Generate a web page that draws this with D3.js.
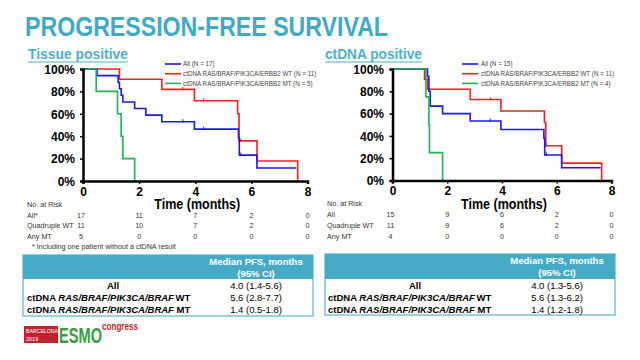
<!DOCTYPE html>
<html><head><meta charset="utf-8">
<script src="https://cdn.jsdelivr.net/npm/d3@7"></script>
<style>body{margin:0;background:#fff}svg{display:block}text{font-family:Arial,"Liberation Sans",sans-serif}</style>
</head><body>
<svg id="c" width="640" height="360"></svg>
<script>
// ---- data ----
const title = "PROGRESSION-FREE SURVIVAL";
const panelTitles = ["Tissue positive", "ctDNA positive"];
const xTicks = [0, 2, 4, 6, 8];
const yTicks = [0, 20, 40, 60, 80, 100];
const seriesNames = [
  ["All (N = 17)", "ctDNA RAS/BRAF/PIK3CA/ERBB2 WT (N = 11)", "ctDNA RAS/BRAF/PIK3CA/ERBB2 MT (N = 5)"],
  ["All (N = 15)", "ctDNA RAS/BRAF/PIK3CA/ERBB2 WT (N = 11)", "ctDNA RAS/BRAF/PIK3CA/ERBB2 MT (N = 4)"]
];
const seriesColors = ["#1a1ae6", "#f02020", "#22b052"];
// step curves [time (months), survival %]
const tissueAll = [[0,100],[0.5,94.1],[1.25,88.2],[1.30,82.4],[1.36,76.5],[1.42,70.6],[1.84,64.7],[2.24,58.8],[2.81,52.9],[3.97,46.3],[5.54,38.6],[5.57,23.1],[6.2,11.6],[7.6,11.6]];
const tissueWT  = [[0,100],[1.30,90.9],[2.81,81.8],[3.97,71.6],[5.51,60],[5.56,35.8],[6.2,17.9],[7.65,0]];
const tissueMT  = [[0,100],[0.47,80],[1.23,60],[1.36,40],[1.42,20],[1.84,0]];
const ctdnaAll  = [[0,100],[1.28,93.3],[1.33,80],[1.38,66.7],[1.83,60],[2.84,53.3],[3.96,45.7],[5.53,38],[5.56,22.9],[6.18,11.4],[7.6,11.4]];
const ctdnaWT   = [[0,100],[1.17,90.9],[1.28,81.8],[2.84,72.7],[3.96,62.3],[5.55,52],[5.6,31.2],[6.18,15.6],[7.64,0]];
const ctdnaMT   = [[0,100],[1.22,75],[1.33,50],[1.35,25],[1.83,0]];
// censor marks [time, survival %]
const tissueCensAll = [[3.56,52.9],[4.3,46.3],[5.62,23.1]];
const tissueCensWT  = [[3.56,81.8],[4.3,71.6],[5.62,35.8]];
const ctdnaCensAll  = [[3.57,53.3],[5.62,22.9]];
const ctdnaCensWT   = [[3.59,72.7],[5.62,31.2]];
// numbers at risk
const riskRows = [["All*", "Quadruple WT", "Any MT"], ["All", "Quadruple WT", "Any MT"]];
const riskTissue = [[17,11,7,2,0],[11,10,7,2,0],[5,0,0,0,0]];
const riskCtdna  = [[15,9,6,2,0],[11,9,6,2,0],[4,0,0,0,0]];
const footnote = "* Including one patient without a ctDNA result";
// median PFS tables
const medHeader = ["Median PFS, months", "(95% CI)"];
const medRowLabels = ["All", "WT", "MT"];
const medTissue = ["4.0 (1.4-5.6)", "5.6 (2.8-7.7)", "1.4 (0.5-1.8)"];
const medCtdna  = ["4.0 (1.3-5.6)", "5.6 (1.3-6.2)", "1.4 (1.2-1.8)"];

const svg = d3.select("#c");
const teal = "#45aac5";

svg.append("text").attr("x", 25).attr("y", 36).attr("font-size", 27).attr("font-weight", "bold")
  .attr("fill", "#41a9c6").attr("textLength", 363).attr("lengthAdjust", "spacingAndGlyphs").text(title);

const panels = [
  {x0: 83, x1: 307.5, y0: 181, y1: 69, ttlX: 28, ttlW: 100, labX: 75, legX: 165, legTX: 183,
   curves: [tissueAll, tissueWT, tissueMT], cens: [tissueCensAll, tissueCensWT, null], risk: riskTissue,
   riskY: [207, 218, 228, 239], riskLX: 27, med: medTissue, tbl: {x: 23, w: 290, y: 255, h1: 24, h2: 37, vx: 256, allx: 113, lx: 27}},
  {x0: 392.5, x1: 611.5, y0: 180.5, y1: 69, ttlX: 325, ttlW: 97, labX: 384, legX: 462, legTX: 481,
   curves: [ctdnaAll, ctdnaWT, ctdnaMT], cens: [ctdnaCensAll, ctdnaCensWT, null], risk: riskCtdna,
   riskY: [206, 217, 228, 239], riskLX: 327, med: medCtdna, tbl: {x: 325, w: 290, y: 254, h1: 25, h2: 36, vx: 557, allx: 415, lx: 328}}
];

panels.forEach((p, pi) => {
  const x = d3.scaleLinear().domain([0, 8]).range([p.x0, p.x1]);
  const y = d3.scaleLinear().domain([0, 100]).range([p.y0, p.y1]);
  const g = svg.append("g");

  // panel title
  g.append("text").attr("x", p.ttlX).attr("y", 59).attr("font-size", 14.5).attr("font-weight", "bold")
    .attr("fill", "#4bb0c8").attr("textLength", p.ttlW).attr("lengthAdjust", "spacingAndGlyphs").text(panelTitles[pi]);
  g.append("line").attr("x1", p.ttlX).attr("x2", p.ttlX + p.ttlW).attr("y1", 62).attr("y2", 62)
    .attr("stroke", "#4bb0c8").attr("stroke-width", 1.2);

  // curves
  const line = d3.line().x(d => x(d[0])).y(d => y(d[1])).curve(d3.curveStepAfter);
  [1, 0, 2].forEach(i => {
    g.append("path").datum(p.curves[i]).attr("d", line).attr("fill", "none")
      .attr("stroke", seriesColors[i]).attr("stroke-width", 1.6);
    if (p.cens[i]) {
      g.selectAll(null).data(p.cens[i]).enter().append("line")
        .attr("x1", d => x(d[0])).attr("x2", d => x(d[0]))
        .attr("y1", d => y(d[1]) - 2.5).attr("y2", d => y(d[1]) + 1)
        .attr("stroke", seriesColors[i]).attr("stroke-width", 1);
    }
  });

  // axes
  const ya = g.append("g").attr("transform", `translate(${p.x0},0)`)
    .call(d3.axisLeft(y).tickValues(yTicks).tickSize(3).tickFormat(d => d + "%"));
  const xa = g.append("g").attr("transform", `translate(0,${p.y0})`)
    .call(d3.axisBottom(x).tickValues(xTicks).tickSize(3).tickFormat(d3.format("d")));
  [ya, xa].forEach(a => {
    a.select(".domain").attr("stroke", "#000").attr("stroke-width", 2.5);
    a.selectAll(".tick line").attr("stroke", "#000").attr("stroke-width", 1.5);
    a.selectAll("text").attr("font-size", 12).attr("font-weight", "bold").attr("fill", "#000")
      .attr("font-family", "Arial, Liberation Sans, sans-serif");
  });
  ya.selectAll("text").attr("x", -(p.x0 - p.labX)).attr("dy", "0.36em");
  xa.selectAll("text").attr("y", 6);

  g.append("text").attr("x", (x(0) + x(8)) / 2 + 2).attr("y", 208.5).attr("text-anchor", "middle")
    .attr("font-size", 15).attr("font-weight", "bold").attr("textLength", 86)
    .attr("lengthAdjust", "spacingAndGlyphs").text("Time (months)");

  // legend
  seriesNames[pi].forEach((n, i) => {
    const ly = 64 + i * 9.7;
    g.append("line").attr("x1", p.legX).attr("x2", p.legX + 16).attr("y1", ly).attr("y2", ly)
      .attr("stroke", seriesColors[i]).attr("stroke-width", 1.6);
    g.append("text").attr("x", p.legTX).attr("y", ly + 2.3).attr("font-size", 6.3).attr("fill", "#444").text(n);
  });

  // numbers at risk
  const rt = g.append("g").attr("font-size", 7.2).attr("fill", "#333");
  rt.append("text").attr("x", p.riskLX).attr("y", p.riskY[0]).text("No. at Risk");
  riskRows[pi].forEach((r, i) => {
    rt.append("text").attr("x", p.riskLX).attr("y", p.riskY[i + 1]).text(r);
    p.risk[i].forEach((v, j) => {
      rt.append("text").attr("x", x(xTicks[j]) - (j === 0 ? 2 : 0)).attr("y", p.riskY[i + 1])
        .attr("text-anchor", "middle").text(v);
    });
  });
  if (pi === 0) rt.append("text").attr("x", 32).attr("y", 249).text(footnote);

  // median table
  const t = p.tbl;
  g.append("rect").attr("x", t.x).attr("y", t.y).attr("width", t.w).attr("height", t.h1 + t.h2)
    .attr("fill", "#fff").attr("stroke", "#7cc3d6").attr("stroke-width", 1.5);
  g.append("rect").attr("x", t.x).attr("y", t.y).attr("width", t.w).attr("height", t.h1).attr("fill", teal);
  medHeader.forEach((h, i) => {
    g.append("text").attr("x", t.vx).attr("y", t.y + 10 + i * 12).attr("text-anchor", "middle")
      .attr("font-size", 9.5).attr("font-weight", "bold").attr("fill", "#fff").text(h);
  });
  const rowY = [t.y + t.h1 + 10, t.y + t.h1 + 22, t.y + t.h1 + 34];
  medRowLabels.forEach((lab, i) => {
    const tx = g.append("text").attr("y", rowY[i]).attr("font-size", 9.5).attr("font-weight", "bold").attr("fill", "#000");
    if (i === 0) {
      tx.attr("x", t.allx).attr("text-anchor", "middle").text(lab);
    } else {
      tx.attr("x", t.lx);
      tx.append("tspan").text("ctDNA ");
      tx.append("tspan").attr("font-style", "italic").text("RAS/BRAF/PIK3CA/BRAF");
      tx.append("tspan").attr("dx", i === 1 ? 1.5 : 0).text(i === 1 ? "WT" : " MT");
    }
    g.append("text").attr("x", t.vx).attr("y", rowY[i]).attr("text-anchor", "middle")
      .attr("font-size", 9.5).attr("fill", "#000").text(p.med[i]);
  });
});

// ESMO logo
const lg = svg.append("g");
lg.append("rect").attr("x", 24).attr("y", 326).attr("width", 34).attr("height", 17).attr("fill", "#c0232e");
lg.append("text").attr("x", 26).attr("y", 333).attr("font-size", 5.2).attr("fill", "#fff").text("BARCELONA");
lg.append("text").attr("x", 26).attr("y", 341).attr("font-size", 5.5).attr("fill", "#fff").text("2019");
lg.append("text").attr("x", 59).attr("y", 343).attr("font-size", 22).attr("font-weight", "bold").attr("fill", "#3a9a45")
  .attr("textLength", 43).attr("lengthAdjust", "spacingAndGlyphs").text("ESMO");
lg.append("text").attr("x", 102).attr("y", 330).attr("font-size", 11).attr("font-weight", "bold").attr("fill", "#c0232e")
  .attr("textLength", 36).attr("lengthAdjust", "spacingAndGlyphs").text("congress");
</script>
</body></html>
